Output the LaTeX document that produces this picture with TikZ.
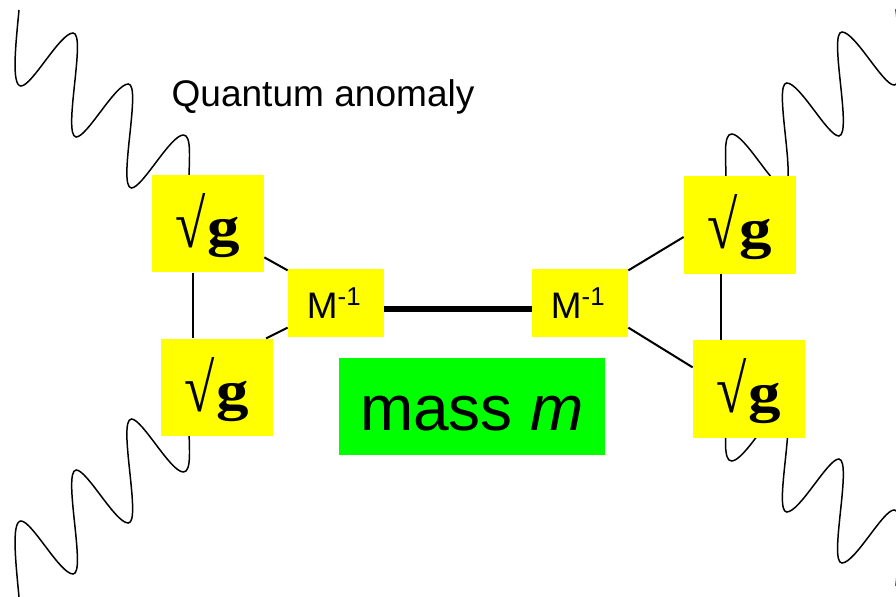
\documentclass[tikz,border=0pt]{standalone}
\usepackage{graphicx}
\usepackage{fontspec}
\setmainfont{Liberation Sans}
\newfontfamily\rootfont{Liberation Serif}
\definecolor{boxyellow}{RGB}{255,255,0}
\definecolor{boxgreen}{RGB}{0,255,0}
\newcommand{\rootg}{\raisebox{-13.5pt}[0pt][0pt]{\scalebox{0.85}[1.05]{√}}\kern1pt\raisebox{-12.8pt}[0pt][0pt]{\scalebox{1}[0.85]{\bfseries g}}}
\begin{document}
\begin{tikzpicture}[x=0.02cm,y=-0.02cm]
  % Parameters
  \def\waveX{55.2} % shift of one wiggle
  \def\waveY{51}
  \useasboundingbox (0,0) rectangle (896,597);

  \tikzset{
    rootbox/.style={fill=boxyellow, inner sep=0pt, minimum width=2.24cm, minimum height=1.95cm,
      font=\rootfont\fontsize{37pt}{37pt}\selectfont},
    invbox/.style={fill=boxyellow, inner sep=0pt, minimum width=1.92cm, minimum height=1.36cm,
      font=\fontsize{21pt}{21pt}\selectfont},
    massbox/.style={fill=boxgreen, inner sep=0pt, minimum width=5.32cm, minimum height=1.94cm,
      font=\fontsize{36.4pt}{36pt}\selectfont},
    thinline/.style={line width=1.15pt},
    % Define wave drawing as a TikZ pic
    wave/.pic={
      \draw[line width=0.85pt] (19,10) .. controls (16,42) and (11,86) .. (21,86);
      \foreach \i in {0,1,2} {
        \begin{scope}[shift={(\i*\waveX,\i*\waveY)}]
          \draw[line width=0.85pt, line cap=round] (21,86) .. controls (32,86) and (60,33) .. (73,33);
        \end{scope}
      }
      \foreach \i in {0,1} {
        \begin{scope}[shift={(\i*\waveX,\i*\waveY)}]
          \draw[line width=0.85pt, line cap=round] (73,33) .. controls (87,33) and (62,136) .. (76.2,137);
        \end{scope}
      }
      \draw[line width=0.85pt] (183.4,135) .. controls (192,135) and (189,160) .. (189,180);
    }
  }

  % Draw 4 waves, mirrored
  \pic[transform shape]{wave};
  \begin{scope}[shift={(915,-1)},xscale=-1]
    \pic[transform shape]{wave};
  \end{scope}
  \begin{scope}[shift={(0,607)},yscale=-1]
    \pic[transform shape]{wave};
  \end{scope}
  \begin{scope}[shift={(915,596)},xscale=-1,yscale=-1]
    \pic[transform shape]{wave};
  \end{scope}

  % Boxes
  \node[rootbox] (rootTL) at (208,223.5) {\rootg};
  \node[rootbox] (rootBL) at (217,387.5) {\rootg};
  \node[rootbox] (rootTR) at (740,225) {\rootg};
  \node[rootbox] (rootBR) at (749,389) {\rootg};
  \node[invbox] (invL) at (336,303) {M\textsuperscript{-1}\kern2pt};
  \node[invbox] (invR) at (580,303) {M\textsuperscript{-1}\kern2pt};
  \node[massbox] (mass) at (472,406.5) {\raisebox{-13.4pt}[0pt][0pt]{mass \textit{m}}};
  \node[font=\fontsize{21.1pt}{21pt}\selectfont] (title) at (323,97) {Quantum anomaly};

  % Connectors
  \draw[thinline] ([xshift=-0.3cm]rootTL.south) -- ([xshift=-0.3cm]rootTL.south |- rootBL.north);
  \draw[thinline] ([xshift=-0.38cm]rootTR.south) -- ([xshift=-0.38cm]rootTR.south |- rootBR.north);
  \draw[thinline] (rootTL.-31) -- (invL.146);
  \draw[thinline] (rootBL.45) -- (invL.207);
  \draw[thinline] (invR.34) -- (rootTR.192);
  \draw[thinline] (invR.-27) -- (rootBR.159);
  \draw[line width=3.8pt] (invL.-7) -- (invR.187);
\end{tikzpicture}
\end{document}
